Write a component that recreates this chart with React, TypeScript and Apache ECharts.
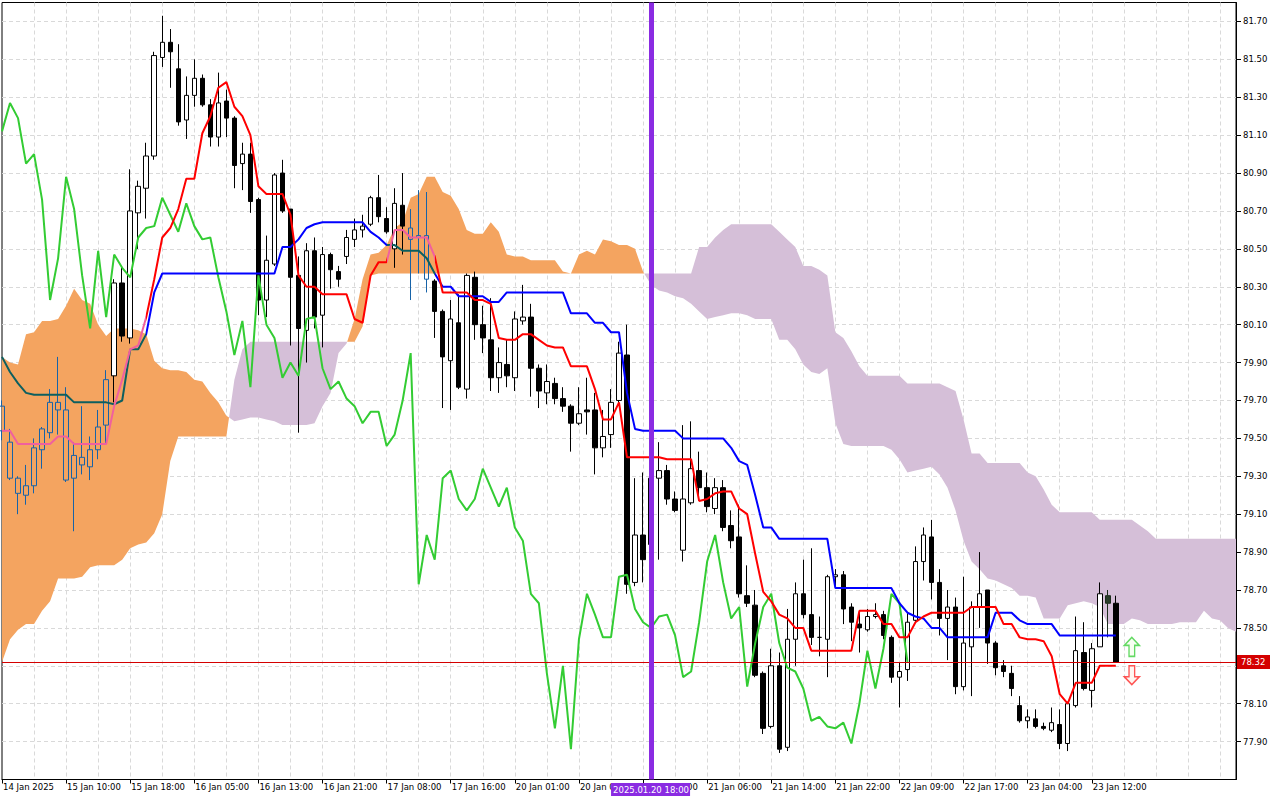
import React, { useEffect, useRef } from "react";
import * as echarts from "echarts";

// ---------- data (prices) ----------
// candles: [open, close, low, high], one per hourly bar (bar index 0..139)
const candles: number[][] = [
  [79.54, 79.67, 79.49, 79.70], [79.48, 79.29, 79.28, 79.55], [79.29, 79.21, 79.10, 79.30], [79.20, 79.25, 79.15, 79.36], [79.25, 79.45, 79.21, 79.50],
  [79.44, 79.55, 79.34, 79.56], [79.53, 79.69, 79.50, 79.76], [79.69, 79.65, 79.52, 79.93], [79.65, 79.28, 79.27, 79.77], [79.29, 79.41, 79.01, 79.48],
  [79.40, 79.36, 79.31, 79.67], [79.35, 79.44, 79.28, 79.51], [79.44, 79.56, 79.39, 79.65], [79.57, 79.81, 79.47, 79.86], [79.83, 80.32, 79.69, 80.34],
  [80.32, 80.04, 80.01, 80.41], [80.03, 80.70, 80.00, 80.92], [80.69, 80.83, 80.50, 80.86], [80.82, 80.99, 80.66, 81.06], [80.99, 81.52, 80.97, 81.54],
  [81.51, 81.59, 81.46, 81.73], [81.59, 81.54, 81.35, 81.66], [81.45, 81.17, 81.15, 81.58], [81.18, 81.31, 81.08, 81.41], [81.31, 81.40, 81.25, 81.50],
  [81.40, 81.26, 81.25, 81.42], [81.26, 81.09, 81.04, 81.29], [81.09, 81.27, 81.04, 81.43], [81.28, 81.19, 81.09, 81.34], [81.19, 80.94, 80.82, 81.20],
  [80.95, 81.00, 80.81, 81.06], [81.00, 80.75, 80.69, 81.06], [80.76, 80.23, 80.15, 80.77], [80.23, 80.44, 80.14, 80.57], [80.42, 80.89, 80.41, 80.90],
  [80.90, 80.70, 80.69, 80.97], [80.71, 80.35, 79.99, 80.71], [80.36, 80.08, 79.53, 80.46], [80.07, 80.49, 79.90, 80.53], [80.49, 80.14, 80.08, 80.56],
  [80.15, 80.47, 79.98, 80.51], [80.47, 80.39, 80.29, 80.48], [80.38, 80.34, 80.30, 80.41], [80.46, 80.56, 80.42, 80.60], [80.55, 80.60, 80.51, 80.66],
  [80.60, 80.62, 80.56, 80.68], [80.63, 80.77, 80.62, 80.78], [80.77, 80.67, 80.64, 80.89], [80.66, 80.59, 80.58, 80.72], [80.50, 80.74, 80.40, 80.82],
  [80.73, 80.62, 80.47, 80.90], [80.61, 80.55, 80.23, 80.71], [80.57, 80.56, 80.37, 80.81], [80.57, 80.34, 80.27, 80.80], [80.33, 80.17, 80.03, 80.34],
  [80.17, 79.93, 79.66, 80.18], [79.91, 80.13, 79.65, 80.23], [80.11, 79.77, 79.76, 80.26], [79.76, 80.36, 79.71, 80.37], [80.35, 80.10, 80.02, 80.38],
  [80.10, 80.03, 79.95, 80.20], [80.02, 79.82, 79.75, 80.24], [79.82, 79.90, 79.74, 79.98], [79.89, 79.83, 79.77, 80.02], [79.82, 80.13, 79.75, 80.17],
  [80.12, 80.14, 80.10, 80.31], [80.14, 79.87, 79.72, 80.21], [79.87, 79.75, 79.66, 79.89], [79.74, 79.80, 79.68, 79.89], [79.79, 79.71, 79.68, 79.82],
  [79.71, 79.67, 79.64, 79.77], [79.67, 79.58, 79.43, 79.68], [79.58, 79.63, 79.57, 79.77], [79.65, 79.64, 79.52, 79.82], [79.65, 79.45, 79.31, 79.74],
  [79.45, 79.51, 79.40, 79.65], [79.52, 79.69, 79.45, 79.76], [79.70, 79.95, 79.68, 80.01], [79.94, 78.73, 78.68, 80.10], [78.74, 78.99, 78.72, 79.29],
  [78.99, 78.86, 78.74, 79.32], [78.94, 79.29, 78.86, 79.33], [79.29, 79.33, 78.86, 79.48], [79.33, 79.18, 79.15, 79.36], [79.18, 79.12, 79.11, 79.22],
  [78.91, 79.18, 78.85, 79.57], [79.16, 79.34, 79.15, 79.59], [79.33, 79.24, 79.17, 79.43], [79.24, 79.14, 79.11, 79.32], [79.13, 79.24, 79.10, 79.29],
  [79.24, 79.03, 79.01, 79.28], [79.04, 78.96, 78.92, 79.12], [78.98, 78.68, 78.66, 79.15], [78.67, 78.63, 78.61, 78.83], [78.62, 78.25, 78.24, 78.70],
  [78.26, 77.97, 77.94, 78.27], [77.98, 78.30, 77.97, 78.39], [78.30, 77.86, 77.84, 78.37], [77.87, 78.44, 77.85, 78.60], [78.44, 78.68, 78.30, 78.74],
  [78.68, 78.57, 78.55, 78.86], [78.57, 78.45, 78.41, 78.92], [78.45, 78.45, 78.35, 78.56], [78.44, 78.77, 78.24, 78.78], [78.77, 78.78, 78.71, 78.81],
  [78.78, 78.60, 78.52, 78.80], [78.61, 78.53, 78.43, 78.63], [78.52, 78.50, 78.37, 78.59], [78.49, 78.56, 78.48, 78.60], [78.56, 78.57, 78.55, 78.63],
  [78.57, 78.46, 78.44, 78.59], [78.45, 78.24, 78.21, 78.46], [78.24, 78.27, 78.08, 78.32], [78.28, 78.53, 78.22, 78.58], [78.54, 78.85, 78.53, 78.93],
  [78.85, 78.99, 78.75, 79.03], [78.98, 78.74, 78.65, 79.07], [78.74, 78.55, 78.46, 78.81], [78.55, 78.61, 78.33, 78.70], [78.61, 78.19, 78.15, 78.66],
  [78.19, 78.42, 78.17, 78.77], [78.40, 78.61, 78.14, 78.64], [78.61, 78.68, 78.50, 78.90], [78.70, 78.42, 78.31, 78.70], [78.42, 78.29, 78.25, 78.43],
  [78.30, 78.27, 78.24, 78.33], [78.26, 78.18, 78.14, 78.30], [78.09, 78.01, 78.00, 78.14], [78.01, 78.03, 77.97, 78.07], [78.02, 77.98, 77.97, 78.07],
  [77.98, 77.97, 77.96, 78.00], [77.96, 78.00, 77.95, 78.08], [77.99, 77.89, 77.86, 78.07], [77.89, 78.10, 77.85, 78.11], [78.09, 78.38, 78.08, 78.56],
  [78.37, 78.18, 78.17, 78.53], [78.17, 78.39, 78.08, 78.42], [78.40, 78.68, 78.40, 78.74], [78.67, 78.63, 78.45, 78.70], [78.63, 78.32, 78.32, 78.67],
];

// Tenkan-sen (bars 0..139)
const tenkan: number[] = [
  79.54, 79.54, 79.47, 79.47, 79.47, 79.47, 79.47, 79.51, 79.51, 79.47,
  79.47, 79.47, 79.47, 79.47, 79.67, 79.81, 79.97, 79.99, 80.14, 80.34,
  80.56, 80.61, 80.71, 80.87, 80.87, 81.11, 81.20, 81.35, 81.38, 81.25,
  81.20, 81.10, 80.83, 80.79, 80.79, 80.79, 80.68, 80.36, 80.30, 80.30,
  80.26, 80.26, 80.26, 80.26, 80.13, 80.11, 80.36, 80.43, 80.43, 80.60,
  80.60, 80.56, 80.56, 80.56, 80.46, 80.27, 80.27, 80.27, 80.27, 80.23,
  80.23, 80.21, 80.03, 80.02, 80.02, 80.05, 80.05, 80.02, 79.99, 79.98,
  79.98, 79.88, 79.88, 79.88, 79.76, 79.60, 79.60, 79.69, 79.40, 79.40,
  79.40, 79.40, 79.40, 79.39, 79.39, 79.39, 79.39, 79.17, 79.18, 79.21,
  79.22, 79.22, 79.13, 79.10, 78.89, 78.69, 78.64, 78.57, 78.55, 78.50,
  78.50, 78.38, 78.38, 78.38, 78.38, 78.38, 78.38, 78.59, 78.59, 78.59,
  78.52, 78.52, 78.45, 78.45, 78.53, 78.56, 78.58, 78.58, 78.58, 78.58,
  78.58, 78.61, 78.61, 78.61, 78.61, 78.52, 78.52, 78.45, 78.44, 78.44,
  78.43, 78.35, 78.15, 78.10, 78.21, 78.21, 78.21, 78.30, 78.30, 78.30,
];

// Kijun-sen (bars 0..139)
const kijun: number[] = [
  79.93, 79.85, 79.79, 79.74, 79.73, 79.73, 79.73, 79.73, 79.73, 79.69,
  79.69, 79.69, 79.69, 79.69, 79.68, 79.70, 79.97, 79.97, 80.05, 80.27,
  80.37, 80.37, 80.37, 80.37, 80.37, 80.37, 80.37, 80.37, 80.37, 80.37,
  80.37, 80.37, 80.37, 80.37, 80.37, 80.51, 80.51, 80.55, 80.61, 80.63,
  80.64, 80.64, 80.64, 80.64, 80.64, 80.64, 80.59, 80.56, 80.52, 80.52,
  80.49, 80.49, 80.49, 80.45, 80.37, 80.30, 80.30, 80.25, 80.25, 80.25,
  80.25, 80.22, 80.22, 80.27, 80.27, 80.27, 80.27, 80.27, 80.27, 80.27,
  80.27, 80.16, 80.16, 80.16, 80.11, 80.11, 80.06, 80.06, 79.74, 79.55,
  79.54, 79.54, 79.54, 79.54, 79.54, 79.50, 79.50, 79.50, 79.50, 79.50,
  79.50, 79.45, 79.38, 79.36, 79.20, 79.03, 79.03, 78.97, 78.97, 78.97,
  78.97, 78.97, 78.97, 78.97, 78.71, 78.71, 78.71, 78.71, 78.71, 78.71,
  78.71, 78.71, 78.63, 78.58, 78.56, 78.55, 78.50, 78.50, 78.45, 78.45,
  78.45, 78.45, 78.45, 78.45, 78.58, 78.58, 78.58, 78.54, 78.52, 78.52,
  78.52, 78.52, 78.46, 78.46, 78.46, 78.46, 78.46, 78.46, 78.46, 78.46,
];

// Chikou span (drawn from bar 0 to bar 113)
const chikou: number[] = [
  81.12, 81.27, 81.19, 80.95, 81.00, 80.76, 80.23, 80.45, 80.88, 80.71,
  80.36, 80.08, 80.49, 80.14, 80.47, 80.40, 80.35, 80.56, 80.61, 80.62,
  80.77, 80.68, 80.59, 80.74, 80.62, 80.55, 80.56, 80.35, 80.17, 79.94,
  80.12, 79.77, 80.36, 80.10, 80.03, 79.82, 79.90, 79.83, 80.13, 80.14,
  79.87, 79.76, 79.80, 79.71, 79.67, 79.58, 79.64, 79.64, 79.46, 79.52,
  79.70, 79.95, 78.73, 78.99, 78.86, 79.29, 79.33, 79.18, 79.12, 79.18,
  79.34, 79.24, 79.14, 79.24, 79.03, 78.96, 78.68, 78.63, 78.26, 77.97,
  78.30, 77.86, 78.44, 78.68, 78.57, 78.45, 78.45, 78.77, 78.78, 78.60,
  78.53, 78.50, 78.56, 78.57, 78.46, 78.24, 78.27, 78.53, 78.85, 78.99,
  78.74, 78.55, 78.61, 78.19, 78.42, 78.61, 78.68, 78.42, 78.29, 78.27,
  78.18, 78.01, 78.03, 77.98, 77.97, 78.00, 77.89, 78.10, 78.38, 78.18,
  78.39, 78.68, 78.63, 78.32,
];

// Senkou span A (bars 0..154, includes the 26 bars projected ahead)
const senkouA: number[] = [
  79.93, 79.90, 79.89, 80.05, 80.06, 80.12, 80.12, 80.13, 80.20, 80.29,
  80.23, 80.21, 80.10, 80.04, 80.08, 80.08, 80.08, 80.07, 80.05, 79.91,
  79.87, 79.86, 79.86, 79.85, 79.81, 79.80, 79.74, 79.69, 79.62, 79.59,
  79.60, 79.61, 79.61, 79.60, 79.59, 79.57, 79.57, 79.57, 79.57, 79.58,
  79.67, 79.74, 79.95, 80.00, 80.13, 80.34, 80.47, 80.48, 80.52, 80.61,
  80.64, 80.77, 80.79, 80.88, 80.88, 80.80, 80.78, 80.71, 80.60, 80.58,
  80.58, 80.64, 80.59, 80.47, 80.46, 80.46, 80.44, 80.44, 80.44, 80.44,
  80.38, 80.37, 80.47, 80.49, 80.47, 80.55, 80.54, 80.52, 80.52, 80.50,
  80.38, 80.31, 80.28, 80.27, 80.25, 80.24, 80.21, 80.17, 80.13, 80.14,
  80.15, 80.16, 80.16, 80.15, 80.13, 80.13, 80.13, 80.02, 80.02, 79.97,
  79.89, 79.85, 79.84, 79.87, 79.58, 79.47, 79.46, 79.46, 79.46, 79.46,
  79.46, 79.44, 79.39, 79.32, 79.33, 79.34, 79.35, 79.31, 79.24, 79.12,
  78.96, 78.85, 78.81, 78.76, 78.75, 78.73, 78.71, 78.67, 78.67, 78.66,
  78.55, 78.55, 78.55, 78.62, 78.63, 78.64, 78.63, 78.61, 78.52, 78.52,
  78.52, 78.55, 78.54, 78.52, 78.52, 78.52, 78.52, 78.53, 78.53, 78.53,
  78.59, 78.55, 78.54, 78.50, 78.48,
];

// Senkou span B (bars 0..154)
const senkouB: number[] = [
  78.32, 78.44, 78.49, 78.52, 78.52, 78.59, 78.64, 78.76, 78.76, 78.76,
  78.77, 78.82, 78.83, 78.83, 78.83, 78.86, 78.92, 78.94, 78.95, 79.00,
  79.10, 79.38, 79.51, 79.51, 79.51, 79.51, 79.51, 79.51, 79.51, 79.81,
  79.97, 80.01, 80.01, 80.01, 80.01, 80.01, 80.01, 80.01, 80.01, 80.01,
  80.01, 80.01, 80.01, 80.01, 80.01, 80.09, 80.36, 80.37, 80.37, 80.37,
  80.37, 80.37, 80.37, 80.37, 80.37, 80.37, 80.37, 80.37, 80.37, 80.37,
  80.37, 80.37, 80.37, 80.37, 80.37, 80.37, 80.37, 80.37, 80.37, 80.37,
  80.37, 80.37, 80.37, 80.37, 80.37, 80.37, 80.37, 80.37, 80.37, 80.37,
  80.37, 80.37, 80.37, 80.37, 80.37, 80.37, 80.37, 80.51, 80.51, 80.56,
  80.60, 80.63, 80.63, 80.63, 80.63, 80.63, 80.63, 80.59, 80.55, 80.51,
  80.41, 80.41, 80.39, 80.36, 80.06, 80.03, 79.96, 79.88, 79.83, 79.83,
  79.83, 79.83, 79.83, 79.79, 79.79, 79.79, 79.79, 79.79, 79.77, 79.75,
  79.60, 79.42, 79.42, 79.37, 79.37, 79.37, 79.37, 79.37, 79.32, 79.30,
  79.23, 79.15, 79.11, 79.11, 79.11, 79.11, 79.11, 79.07, 79.07, 79.07,
  79.07, 79.07, 79.04, 79.01, 78.97, 78.97, 78.97, 78.97, 78.97, 78.97,
  78.97, 78.97, 78.97, 78.97, 78.97,
];

const priceTicks: number[] = [
  81.7, 81.5, 81.3, 81.1, 80.9, 80.7, 80.5, 80.3, 80.1, 79.9,
  79.7, 79.5, 79.3, 79.1, 78.9, 78.7, 78.5, 78.3, 78.1, 77.9,
];

const timeLabels: [number, string][] = [
  [0, "14 Jan 2025"], [8, "15 Jan 10:00"], [16, "15 Jan 18:00"], [24, "16 Jan 05:00"],
  [32, "16 Jan 13:00"], [40, "16 Jan 21:00"], [48, "17 Jan 08:00"], [56, "17 Jan 16:00"],
  [64, "20 Jan 01:00"], [72, "20 Jan 09:00"], [80, "20 Jan 17:00"], [88, "21 Jan 06:00"],
  [96, "21 Jan 14:00"], [104, "21 Jan 22:00"], [112, "22 Jan 09:00"], [120, "22 Jan 17:00"],
  [128, "23 Jan 04:00"], [136, "23 Jan 12:00"],
];

const TOTAL_BARS = 155;
const markerBar = 81;
const markerText = "2025.01.20 18:00";
const lastPrice = 78.32;
const signalArrows = [
  { bar: 141, price: 78.4, dir: "up" },
  { bar: 141, price: 78.25, dir: "down" },
];
// candles drawn inside the orange cloud (MT5 shows them tinted)
const tintedBars: number[] = [0, 1, 2, 3, 4, 5, 6, 7, 8, 9, 10, 11, 12, 13, 51, 52, 53];
const darkBars: number[] = [138];

// ---------- styling ----------
const FONT = "DejaVu Sans";
const FS = 8.5;
const ORANGE = "#f4a460";
const THISTLE = "#d5bfd8";
const GRID = "#d9d9d9";

const categories = Array.from({ length: TOTAL_BARS }, (_, i) => String(i));
const labelMap: Record<number, string> = {};
timeLabels.forEach(([k, t]) => (labelMap[k] = t));

const UP_ARROW = "path://M8,0 L16,8 L11,8 L11,19 L5,19 L5,8 L0,8 Z";
const DOWN_ARROW = "path://M5,0 L11,0 L11,11 L16,11 L8,19 L0,11 L5,11 Z";

function renderCloud(_params: any, api: any) {
  const pa = senkouA.map((v, i) => api.coord([i, v]));
  const pb = senkouB.map((v, i) => api.coord([i, v]));
  const children: any[] = [];
  let sign = 0;
  let top: number[][] = [];
  let bot: number[][] = [];
  const flush = () => {
    if (top.length < 2) return;
    children.push({
      type: "polygon",
      silent: true,
      shape: { points: top.concat(bot.slice().reverse()) },
      style: { fill: sign > 0 ? ORANGE : THISTLE },
    });
  };
  for (let i = 0; i < senkouA.length; i++) {
    const d = senkouA[i] - senkouB[i];
    const s = d >= 0 ? 1 : -1;
    if (i === 0) {
      sign = s;
      top = [pa[i]];
      bot = [pb[i]];
      continue;
    }
    if (s === sign) {
      top.push(pa[i]);
      bot.push(pb[i]);
    } else {
      const d0 = senkouA[i - 1] - senkouB[i - 1];
      const t = d0 / (d0 - d);
      const cx = pa[i - 1][0] + t * (pa[i][0] - pa[i - 1][0]);
      const cy = pa[i - 1][1] + t * (pa[i][1] - pa[i - 1][1]);
      top.push([cx, cy]);
      bot.push([cx, cy]);
      flush();
      sign = s;
      top = [[cx, cy], pa[i]];
      bot = [[cx, cy], pb[i]];
    }
  }
  flush();
  return { type: "group", children };
}

const labelInterval = (idx: number) => labelMap[idx] !== undefined;

function buildOption(): any {
  const candleData = candles.map((c, i) => {
    if (tintedBars.includes(i)) {
      return {
        value: c,
        itemStyle: { color: "rgba(0,0,0,0)", color0: "#1763a8", borderColor: "#1763a8", borderColor0: "#1763a8", borderColorDoji: "#1763a8" },
      };
    }
    if (darkBars.includes(i)) {
      return { value: c, itemStyle: { color0: "#2a3d2a", borderColor0: "#1e2e1e" } };
    }
    return c;
  });

  return {
    animation: false,
    backgroundColor: "#ffffff",
    textStyle: { fontFamily: FONT },
    grid: {
      left: 2,
      right: 44,
      top: 2.5,
      bottom: 20.5,
      show: true,
      borderColor: "#000",
      borderWidth: 1,
      backgroundColor: "#fff",
    },
    xAxis: {
      type: "category",
      data: categories,
      boundaryGap: false,
      axisLine: { show: true, onZero: false, lineStyle: { color: "#000", width: 1 } },
      axisTick: { show: true, interval: labelInterval, length: 4, lineStyle: { color: "#000" } },
      axisLabel: {
        show: true,
        interval: labelInterval,
        formatter: (_v: string, idx: number) => labelMap[idx] || "",
        align: "left",
        margin: 3,
        color: "#000",
        fontSize: FS,
        fontFamily: FONT,
        hideOverlap: false,
        padding: [0, 0, 0, 1],
      },
      splitLine: {
        show: true,
        interval: (idx: number) => idx > 0 && idx % 4 === 0,
        lineStyle: { color: GRID, type: [4, 3], width: 1 },
      },
    },
    yAxis: {
      type: "value",
      position: "right",
      min: 77.7,
      max: 81.8,
      axisLine: { show: true, lineStyle: { color: "#000", width: 1 } },
      axisTick: { show: true, length: 5, customValues: priceTicks, lineStyle: { color: "#000" } },
      axisLabel: {
        show: true,
        customValues: priceTicks,
        formatter: (v: number) => v.toFixed(2),
        color: "#000",
        fontSize: FS,
        fontFamily: FONT,
        margin: 7,
        hideOverlap: false,
      },
      splitLine: { show: true, lineStyle: { color: GRID, type: [4, 3], width: 1 } },
    },
    series: [
      {
        type: "custom",
        name: "cloud",
        renderItem: renderCloud,
        data: [[0, 80]],
        clip: true,
        silent: true,
        z: 1,
      },
      {
        type: "candlestick",
        name: "price",
        data: candleData,
        barWidth: 5,
        large: false,
        z: 2,
        itemStyle: {
          color: "#ffffff",
          color0: "#000000",
          borderColor: "#000000",
          borderColor0: "#000000",
          borderColorDoji: "#000000",
          borderWidth: 1,
        },
      },
      {
        type: "line",
        name: "chikou",
        data: chikou,
        symbol: "none",
        lineStyle: { color: "#33cc33", width: 2 },
        z: 3,
        silent: true,
      },
      {
        type: "line",
        name: "kijun",
        data: kijun,
        symbol: "none",
        color: "#0000ff",
        lineStyle: { width: 2 },
        z: 3,
        silent: true,
      },
      {
        type: "line",
        name: "tenkan",
        data: tenkan,
        symbol: "none",
        color: "#ff0000",
        lineStyle: { width: 2 },
        z: 3,
        silent: true,
      },
      {
        type: "scatter",
        name: "signals",
        z: 6,
        data: signalArrows.map((a) => ({
          value: [a.bar, a.price],
          symbol: a.dir === "up" ? UP_ARROW : DOWN_ARROW,
          symbolSize: [15, 19],
          itemStyle:
            a.dir === "up"
              ? { color: "#f6fff0", borderColor: "#3ccf3c", borderWidth: 1.5 }
              : { color: "#fff4ee", borderColor: "#ff2a2a", borderWidth: 1.5 },
        })),
        markLine: {
          silent: true,
          symbol: ["none", "none"],
          animation: false,
          label: { show: false },
          data: [
            { yAxis: lastPrice, lineStyle: { color: "#d40000", width: 1, type: "solid" } },
            { xAxis: String(markerBar), lineStyle: { color: "#8a2be2", width: 5, type: "solid" } },
          ],
        },
      },
    ],
    visualMap: [
      {
        type: "piecewise",
        show: false,
        seriesIndex: 3,
        dimension: 0,
        pieces: [
          { lt: 18.1, color: "#0d5f5f" },
          { gte: 18.1, lt: 47.8, color: "#0000ff" },
          { gte: 47.8, lt: 54.1, color: "#0d5f5f" },
          { gte: 54.1, color: "#0000ff" },
        ],
      },
      {
        type: "piecewise",
        show: false,
        seriesIndex: 4,
        dimension: 0,
        pieces: [
          { lt: 17.6, color: "#f0609e" },
          { gte: 17.6, lt: 48.4, color: "#ff0000" },
          { gte: 48.4, lt: 54.1, color: "#f0609e" },
          { gte: 54.1, color: "#ff0000" },
        ],
      },
    ],
  };
}

export default function App() {
  const ref = useRef<HTMLDivElement>(null);
  useEffect(() => {
    document.body.style.margin = "0";
    if (!ref.current) return;
    const chart = echarts.init(ref.current, null, { renderer: "svg" });
    chart.setOption(buildOption());
    const px = chart.convertToPixel({ xAxisIndex: 0 }, String(markerBar)) as number;
    const py = chart.convertToPixel({ yAxisIndex: 0 }, lastPrice) as number;
    chart.setOption({
      graphic: [
        { type: "rect", z: 100, zlevel: 0, shape: { x: px - 40, y: 783, width: 79, height: 13 }, style: { fill: "#8a2be2" } },
        {
          type: "text",
          z: 101,
          x: px,
          y: 789.5,
          style: { text: markerText, fill: "#fff", font: `${FS}px "${FONT}"`, align: "center", verticalAlign: "middle" },
        },
        { type: "rect", z: 100, shape: { x: 1237, y: py - 7, width: 33, height: 14 }, style: { fill: "#d40000" } },
        {
          type: "text",
          z: 101,
          x: 1241,
          y: py,
          style: { text: lastPrice.toFixed(2), fill: "#fff", font: `${FS}px "${FONT}"`, align: "left", verticalAlign: "middle" },
        },
      ],
    });
    return () => chart.dispose();
  }, []);
  return <div ref={ref} style={{ position: "absolute", left: 0, top: 0, width: 1280, height: 800 }} />;
}
